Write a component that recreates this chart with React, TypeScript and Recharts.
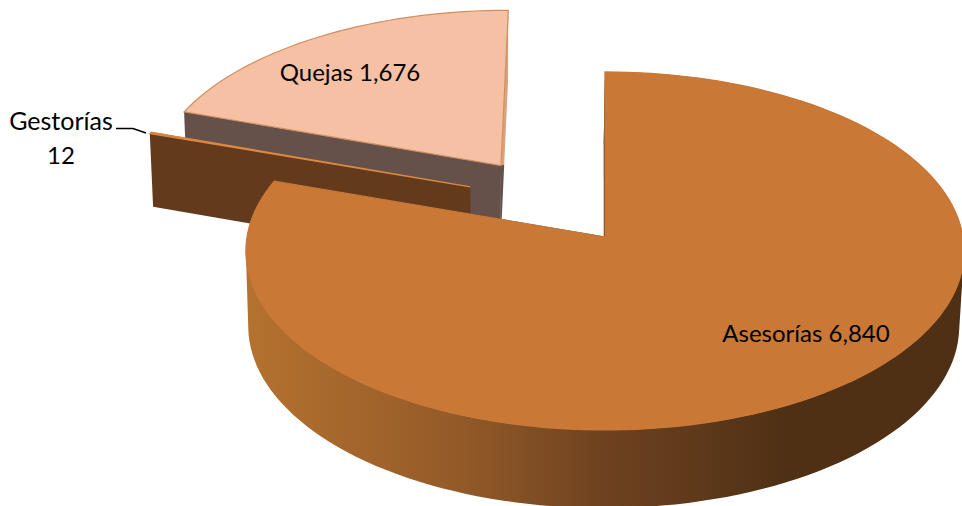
import { Pie, PieChart } from "recharts";

const categories = ["Quejas", "Gestorías", "Asesorías"];
const values = [1676, 12, 6840];

const data = categories.map((name, i) => ({ name, value: values[i] }));

// explosion of each slice, in pie-plane units
const explode: Record<string, [number, number]> = {
  Quejas: [-0.3, 0.415],
  "Gestorías": [-0.385, 0.288],
  "Asesorías": [0, 0],
};

const topFill: Record<string, string> = {
  Quejas: "#f6c0a4",
  "Gestorías": "#c97836",
  "Asesorías": "#c97836",
};

const wallFill: Record<string, string> = {
  Quejas: "#65504a",
  "Gestorías": "#633a1c",
  "Asesorías": "#4f3014",
};

const edge: Record<string, string> = {
  Quejas: "#cf8f60",
  "Gestorías": "#d98a42",
  "Asesorías": "#c97836",
};

const TILT = 0.497;
const PERSPECTIVE = 0.078;
const DEPTH = 75;
const SQUEEZE = 0.99;
const SQUEEZE_X = 480;

const RAD = Math.PI / 180;

type Pt = [number, number, number];

function project(cx: number, cy: number, r: number, name: string, angle: number, radial = 1): Pt {
  const [ou, ov] = explode[name];
  const u = ou + radial * Math.cos(angle * RAD);
  const v = ov + radial * Math.sin(angle * RAD);
  const w = 1 + PERSPECTIVE * v;
  return [cx + (r * u) / w, cy - (r * TILT * v) / w, w];
}

function drop([x, y, w]: Pt): Pt {
  return [SQUEEZE_X + (x - SQUEEZE_X) * SQUEEZE, y + DEPTH / Math.sqrt(w), w];
}

const toPath = (pts: Pt[]) =>
  "M" + pts.map(([x, y]) => `${x.toFixed(1)},${y.toFixed(1)}`).join("L") + "Z";

// all quads wound the same way, so one path fills them without seams
function wallPath(arc: Pt[]) {
  return arc
    .slice(1)
    .map((p, i) => {
      const q = arc[i];
      const quad = [q, p, drop(p), drop(q)];
      let area = 0;
      quad.forEach((a, j) => {
        const b = quad[(j + 1) % 4];
        area += a[0] * b[1] - b[0] * a[1];
      });
      return toPath(area < 0 ? quad.reverse() : quad);
    })
    .join("");
}

function Slice3D(props: any) {
  const { cx, cy, outerRadius, startAngle, endAngle } = props;
  const name: string = props.name ?? props.payload?.name;
  const n = Math.max(2, Math.ceil(Math.abs(endAngle - startAngle) / 2));
  const arc: Pt[] = [];
  for (let i = 0; i <= n; i++) {
    arc.push(project(cx, cy, outerRadius, name, startAngle + ((endAngle - startAngle) * i) / n));
  }
  const apex = project(cx, cy, outerRadius, name, 0, 0);
  const first = arc[0];
  const last = arc[arc.length - 1];
  const wall = wallFill[name];
  const big = name === "Asesorías";
  return (
    <g>
      <path
        d={toPath([apex, first, drop(first), drop(apex)])}
        fill={name === "Quejas" ? "url(#quejasSide)" : wall}
        stroke={big ? wall : "none"}
        strokeWidth={0.8}
      />
      <path d={toPath([apex, last, drop(last), drop(apex)])} fill={wall} />
      {big && <path d={wallPath(arc)} fill="url(#wallShade)" />}
      <path d={toPath([apex, ...arc])} fill={topFill[name]} stroke={edge[name]} strokeWidth={1.2} />
    </g>
  );
}

function SliceLabel(props: any) {
  const name: string = props.name ?? props.payload?.name;
  const value = Number(props.value).toLocaleString("en-US");
  const font = { fontFamily: "Lato, Carlito, sans-serif", fontSize: 24, fill: "#000" };
  if (name === "Gestorías") {
    return (
      <g>
        <text x={61} y={130} textAnchor="middle" {...font} fontSize={25}>{name}</text>
        <text x={61} y={164} textAnchor="middle" {...font}>{value}</text>
        <path d="M116,128.500L133,128.500L146,133" fill="none" stroke="#000" strokeWidth={1.6} />
      </g>
    );
  }
  const x = name === "Quejas" ? 350 : 806;
  const y = name === "Quejas" ? 81 : 342;
  return <text x={x} y={y} textAnchor="middle" {...font}>{`${name} ${value}`}</text>;
}

export default function App() {
  return (
    <div style={{ position: "absolute", left: 0, top: 0 }}>
      <PieChart width={962} height={506} margin={{ top: 0, right: 0, bottom: 0, left: 0 }}>
        <defs>
          <linearGradient id="wallShade" gradientUnits="userSpaceOnUse" x1={245} x2={962} y1={0} y2={0}>
            <stop offset="0" stopColor="#b5722f" />
            <stop offset="0.3" stopColor="#935a28" />
            <stop offset="0.5" stopColor="#6e4220" />
            <stop offset="0.76" stopColor="#4f3014" />
            <stop offset="1" stopColor="#4f3014" />
          </linearGradient>
          <linearGradient id="quejasSide" gradientUnits="userSpaceOnUse" x1={0} x2={0} y1={0} y2={506}>
            <stop offset="0.326" stopColor="#d9a27c" />
            <stop offset="0.326" stopColor="#65504a" />
          </linearGradient>
        </defs>
        <Pie
          data={data}
          dataKey="value"
          nameKey="name"
          cx={605}
          cy={237}
          innerRadius={0}
          outerRadius={358}
          startAngle={90}
          endAngle={450}
          stroke="none"
          shape={Slice3D}
          label={SliceLabel}
          labelLine={false}
          isAnimationActive={false}
        />
      </PieChart>
    </div>
  );
}
